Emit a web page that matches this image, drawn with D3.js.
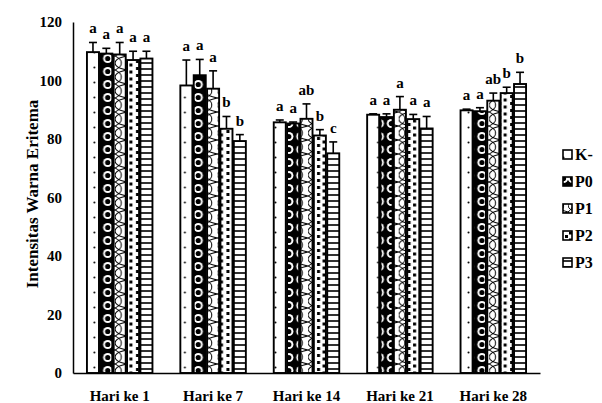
<!DOCTYPE html>
<html>
<head>
<meta charset="utf-8">
<script src="https://cdn.jsdelivr.net/npm/d3@7"></script>
<style>
  html, body { margin: 0; padding: 0; background: #fff; }
  svg { display: block; }
  svg text { font-family: "Liberation Serif", "Tinos", "DejaVu Serif", "Times New Roman", serif !important; font-weight: bold; fill: #000; }
</style>
</head>
<body>
<div id="chart"></div>
<script>
// DATA
const days = ["Hari ke 1", "Hari ke 7", "Hari ke 14", "Hari ke 21", "Hari ke 28"];
const groups = ["K-", "P0", "P1", "P2", "P3"];
const means = [
    [109.7, 109.2, 108.9, 107.0, 107.5],
    [98.3, 101.8, 97.2, 83.5, 79.3],
    [85.7, 85.3, 86.9, 81.2, 75.1],
    [88.3, 87.5, 90.0, 86.8, 83.6],
    [89.8, 89.5, 93.1, 95.7, 98.8]
];
const errors = [
    [3.3, 1.8, 4.1, 3.0, 2.5],
    [8.7, 5.4, 6.1, 4.2, 2.2],
    [0.8, 0.5, 5.1, 2.0, 3.9],
    [0.3, 1.1, 4.5, 1.6, 4.1],
    [0.4, 1.2, 2.6, 2.0, 4.0]
];
const letters = [
    ["a", "a", "a", "a", "a"],
    ["a", "a", "a", "b", "b"],
    ["a", "a", "ab", "b", "c"],
    ["a", "a", "a", "a", "a"],
    ["a", "a", "ab", "b", "b"]
];
const yTicks = [0, 20, 40, 60, 80, 100, 120];

// LAYOUT
const W = 602, H = 403;
const margin = { left: 73, right: 540, top: 22, bottom: 373 };
const serif = '"Liberation Serif", "Tinos", "DejaVu Serif", serif';

const svg = d3.select('#chart').append('svg')
    .attr('width', W)
    .attr('height', H)
    .attr('font-family', serif);

const x0 = d3.scaleBand().domain(days).range([margin.left, margin.right])
    .paddingInner(0.27).paddingOuter(0.135);
const x1 = d3.scaleBand().domain(groups).range([0, x0.bandwidth()]).padding(0.1);
const y = d3.scaleLinear().domain([0, 120]).range([margin.bottom, margin.top]);

const defs = svg.append('defs');

// pattern drawing per series
function fillPattern(p, s, w) {
    if (s === 0) {
        p.attr('height', 15);
        p.append('rect').attr('width', w).attr('height', 15).attr('fill', '#fff');
        p.append('circle').attr('cx', w / 2).attr('cy', 7.5).attr('r', 1).attr('fill', '#000');
    } else if (s === 1) {
        p.attr('height', 13);
        p.append('rect').attr('width', w).attr('height', 13).attr('fill', '#000');
        p.append('circle').attr('cx', w / 2).attr('cy', 6.5).attr('r', 4.6).attr('fill', '#fff');
        p.append('circle').attr('cx', w / 2).attr('cy', 6.5).attr('r', 2.6).attr('fill', '#000');
    } else if (s === 2) {
        p.attr('height', 14);
        p.append('rect').attr('width', w).attr('height', 14).attr('fill', '#fff');
        p.append('path')
            .attr('d', `M${w},0 Q0,2 0,7 Q0,12 ${w},14 M0,0 Q${w * 0.6},4 ${w * 0.5},7 Q${w * 0.6},10 0,14`)
            .attr('fill', 'none').attr('stroke', '#000').attr('stroke-width', 1);
    } else if (s === 3) {
        p.attr('height', 7);
        p.append('rect').attr('width', w).attr('height', 7).attr('fill', '#fff');
        p.append('rect').attr('x', 1).attr('y', 0.5).attr('width', 3).attr('height', 3).attr('fill', '#000');
        p.append('rect').attr('x', w / 2 + 1.5).attr('y', 4).attr('width', 3).attr('height', 3).attr('fill', '#000');
    } else {
        p.attr('height', 6);
        p.append('rect').attr('width', w).attr('height', 6).attr('fill', '#fff');
        p.append('rect').attr('y', 2.2).attr('width', w).attr('height', 1.6).attr('fill', '#000');
    }
}

// bars
const bw = x1.bandwidth();
days.forEach(function (d, gi) {
    const g = svg.append('g').attr('transform', `translate(${x0(d)},0)`);
    groups.forEach(function (s, si) {
        const bx = x0(d) + x1(s);
        const p = defs.append('pattern')
            .attr('id', `pat-${gi}-${si}`)
            .attr('patternUnits', 'userSpaceOnUse')
            .attr('x', bx).attr('y', 0)
            .attr('width', bw);
        fillPattern(p, si, bw);

        const v = means[gi][si];
        const e = errors[gi][si];
        const cx = x1(s) + bw / 2;

        g.append('rect')
            .attr('x', x1(s))
            .attr('y', y(v))
            .attr('width', bw)
            .attr('height', y(0) - y(v))
            .attr('fill', `url(#pat-${gi}-${si})`)
            .attr('stroke', '#000')
            .attr('stroke-width', 1.9);

        // error bar (upper only)
        g.append('line')
            .attr('x1', cx).attr('x2', cx)
            .attr('y1', y(v)).attr('y2', y(v + e))
            .attr('stroke', '#000').attr('stroke-width', 1.6);
        g.append('line')
            .attr('x1', cx - 4).attr('x2', cx + 4)
            .attr('y1', y(v + e)).attr('y2', y(v + e))
            .attr('stroke', '#000').attr('stroke-width', 1.6);

        g.append('text')
            .attr('x', cx)
            .attr('y', y(v + e) - 9)
            .attr('text-anchor', 'middle')
            .style('font-size', '15px')
            .text(letters[gi][si]);
    });
});

// axes
const yAxis = svg.append('g')
    .attr('transform', `translate(${margin.left},0)`)
    .call(d3.axisLeft(y).tickValues(yTicks).tickSize(0).tickPadding(11));
yAxis.attr('font-family', serif);
yAxis.select('.domain').attr('stroke', '#000').attr('stroke-width', 1.5);
yAxis.selectAll('text')
    .style('font-weight', 'bold')
    .style('font-size', '15px');

const xAxis = svg.append('g')
    .attr('transform', `translate(0,${margin.bottom})`)
    .call(d3.axisBottom(x0).tickSize(0).tickPadding(17));
xAxis.attr('font-family', serif);
xAxis.select('.domain').attr('stroke', '#000').attr('stroke-width', 1.5);
xAxis.selectAll('text')
    .style('font-weight', 'bold')
    .style('font-size', '15px');

// y title
svg.append('text')
    .attr('transform', `translate(38,194) rotate(-90)`)
    .attr('text-anchor', 'middle')
    .style('font-size', '17px')
    .text('Intensitas Warna Eritema');

// legend
const legend = svg.append('g').attr('transform', 'translate(563,150)');
groups.forEach(function (s, si) {
    const row = legend.append('g').attr('transform', `translate(0,${si * 27})`);
    const p = defs.append('pattern')
        .attr('id', `leg-${si}`)
        .attr('patternUnits', 'userSpaceOnUse')
        .attr('x', 563).attr('y', 150 + si * 27)
        .attr('width', 9);
    fillPattern(p, si, 9);
    row.append('rect')
        .attr('width', 9).attr('height', 9)
        .attr('fill', `url(#leg-${si})`)
        .attr('stroke', '#000').attr('stroke-width', 1.6);
    row.append('text')
        .attr('x', 12).attr('y', 10)
        .style('font-size', '16px')
        .text(s);
});
</script>
</body>
</html>
